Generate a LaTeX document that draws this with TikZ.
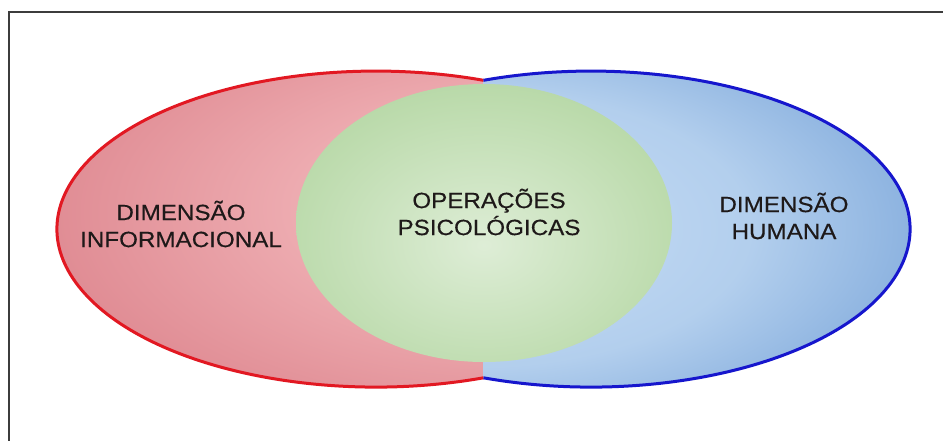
\documentclass[tikz,border=0pt]{standalone}
\usepackage{fontspec}
\setmainfont{Liberation Sans}
\definecolor{redline}{RGB}{226,24,34}
\definecolor{blueline}{RGB}{22,22,205}
\definecolor{framec}{RGB}{60,60,60}
\definecolor{txtc}{RGB}{30,25,25}
\pgfdeclareradialshading{redsh}{\pgfpoint{14bp}{4bp}}{rgb(0bp)=(0.95,0.74,0.75); rgb(18bp)=(0.93,0.67,0.69); rgb(50bp)=(0.83,0.44,0.48); rgb(100bp)=(0.83,0.44,0.48)}
\pgfdeclareradialshading{bluesh}{\pgfpoint{-12bp}{0bp}}{rgb(0bp)=(0.80,0.88,0.97); rgb(22bp)=(0.70,0.81,0.93); rgb(50bp)=(0.33,0.54,0.80); rgb(100bp)=(0.33,0.54,0.80)}
\pgfdeclareradialshading{greensh}{\pgfpoint{0bp}{-4bp}}{rgb(0bp)=(0.87,0.93,0.84); rgb(25bp)=(0.74,0.86,0.68); rgb(50bp)=(0.60,0.78,0.53); rgb(100bp)=(0.60,0.78,0.53)}
\newcommand{\widetxt}[1]{\scalebox{1.1}[1]{#1}}
\begin{document}
\begin{tikzpicture}[x=1pt,y=-1pt,
  lbl/.style={align=center, text=txtc, font=\addfontfeature{FakeBold=0.4}\fontsize{22}{27}\selectfont, inner sep=0pt},
  outl/.style={line width=3pt}]
\useasboundingbox (0,0) rectangle (943,440);
\clip (0,0) rectangle (943,440);
\fill[white] (0,0) rectangle (943,440);
\draw[framec, line width=1.5pt] (9,12) rectangle (970,470);
% fills
\begin{scope}
  \clip (0,0) rectangle (483.5,440);
  \shade[shading=redsh] (376,229) ellipse [x radius=319, y radius=158];
\end{scope}
\begin{scope}
  \clip (483.5,0) rectangle (943,440);
  \shade[shading=bluesh] (591,229) ellipse [x radius=319, y radius=158];
\end{scope}
\shade[shading=greensh] (484,223) ellipse [x radius=188, y radius=139];
% intersection points
\coordinate (itop) at (483.5,80.2);
\coordinate (ibot) at (483.5,377.8);
% outlines
\draw[redline, outl] (ibot) arc [start angle=70.3, end angle=289.7, x radius=319, y radius=158];
\draw[blueline, outl] (ibot) arc [start angle=109.7, end angle=-109.7, x radius=319, y radius=158];
% labels
\node[lbl] (inf) at (181,224) {\widetxt{DIMENSÃO}\\\widetxt{INFORMACIONAL}};
\node[lbl] (psy) at (489,212) {\widetxt{OPERAÇÕES}\\\widetxt{PSICOLÓGICAS}};
\node[lbl] (hum) at (784,216) {\widetxt{DIMENSÃO}\\\widetxt{HUMANA}};
\end{tikzpicture}
\end{document}
